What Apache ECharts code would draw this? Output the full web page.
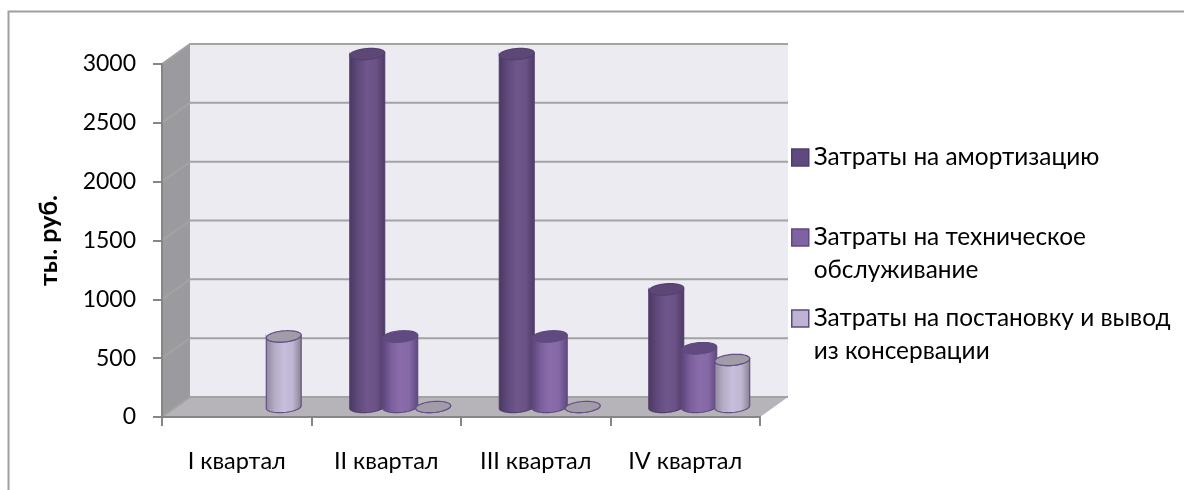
<!DOCTYPE html>
<html>
<head>
<meta charset="utf-8">
<script src="https://cdn.jsdelivr.net/npm/echarts@6/dist/echarts.min.js"></script>
<style>
  html, body { margin: 0; padding: 0; background: #fff; }
  #main { width: 1184px; height: 490px; }
</style>
</head>
<body>
<div id="main"></div>
<script>
var categories = ['I квартал', 'II квартал', 'III квартал', 'IV квартал'];
var yTicks = [0, 500, 1000, 1500, 2000, 2500, 3000];
var amortName = 'Затраты на амортизацию';
var serviceName = 'Затраты на техническое обслуживание';
var preserveName = 'Затраты на постановку и вывод из консервации';
var amortValues = [null, 3000, 3000, 1000];
var serviceValues = [null, 600, 600, 500];
var preserveValues = [600, 0, 0, 400];

var FONT = 'Lato';
var DX = 28, DY = 20;           // depth of the fake 3d box
var RX = 17.5, RY = 5.5;        // cylinder ellipse
var TILT = -5 * Math.PI / 180;

var chart = echarts.init(document.getElementById('main'));

function ellipsePoint(cx, cy, a) {
  var ex = RX * Math.cos(a), ey = RY * Math.sin(a);
  return [cx + ex * Math.cos(TILT) - ey * Math.sin(TILT), cy + ex * Math.sin(TILT) + ey * Math.cos(TILT)];
}

function ellipsePoints(cx, cy) {
  var pts = [];
  for (var i = 0; i < 48; i++) pts.push(ellipsePoint(cx, cy, i / 48 * Math.PI * 2));
  return pts;
}

function hGrad(stops) {
  return {
    type: 'linear', x: 0, y: 0, x2: 1, y2: 0,
    colorStops: stops.map(function (c, i) { return { offset: i / (stops.length - 1), color: c }; })
  };
}

function cylinderSeries(name, values, shift, look) {
  return {
    type: 'custom',
    name: name,
    z: 4,
    itemStyle: { color: look.icon },
    data: values.map(function (v, i) { return [i, v]; }),
    renderItem: function (params, api) {
      var v = api.value(1);
      if (isNaN(v)) return null;
      var top = api.coord([api.value(0), v]);
      var base = api.coord([api.value(0), 0]);
      var cx = top[0] + DX / 2 + shift;
      var yb = base[1] - DY / 2, yt = top[1] - DY / 2;
      var side = [];
      for (var i = 0; i <= 24; i++) side.push(ellipsePoint(cx, yb, Math.PI - i / 24 * Math.PI));
      for (i = 0; i <= 24; i++) side.push(ellipsePoint(cx, yt, i / 24 * Math.PI));
      return {
        type: 'group',
        children: [
          {
            type: 'polygon',
            shape: { points: side },
            style: { fill: hGrad(look.side), stroke: look.border, lineWidth: 1.2 }
          },
          {
            type: 'polygon',
            shape: { points: ellipsePoints(cx, yt) },
            style: { fill: look.top, stroke: look.border, lineWidth: 1.2 }
          }
        ]
      };
    }
  };
}

// walls and floor of the box
var wallSeries = {
  type: 'custom',
  silent: true,
  z: 1,
  data: [[0, 0]],
  renderItem: function (params, api) {
    var c = params.coordSys;
    var l = c.x, r = c.x + c.width, t = c.y, b = c.y + c.height;
    return {
      type: 'group',
      children: [
        { type: 'polygon', shape: { points: [[l + DX, t - DY], [r + DX, t - DY], [r + DX, b - DY], [l + DX, b - DY]] }, style: { fill: '#ecebf1' } },
        { type: 'polygon', shape: { points: [[l, t], [l + DX, t - DY], [l + DX, b - DY], [l, b]] }, style: { fill: '#9b9a9e' } },
        { type: 'polygon', shape: { points: [[l, b], [l + DX, b - DY], [r + DX, b - DY], [r, b]] }, style: { fill: '#b6b4b9' } }
      ]
    };
  }
};

// grid lines run along the side wall, then along the back wall
var gridSeries = {
  type: 'custom',
  silent: true,
  z: 2,
  data: yTicks.map(function (t) { return [0, t]; }),
  renderItem: function (params, api) {
    var c = params.coordSys;
    var y = api.coord([0, api.value(1)])[1];
    return {
      type: 'polyline',
      shape: { points: [[c.x, y], [c.x + DX, y - DY], [c.x + c.width + DX, y - DY]] },
      style: { fill: 'none', stroke: '#a3a3a3', lineWidth: 2 }
    };
  }
};

function legendFor(name, top, text, color, border) {
  return {
    left: 791,
    top: top,
    padding: 0,
    orient: 'vertical',
    selectedMode: false,
    icon: 'rect',
    itemWidth: 17,
    itemHeight: 17,
    itemGap: 0,
    formatter: function () { return text; },
    textStyle: { fontFamily: FONT, fontSize: 24.4, lineHeight: 33, color: '#000' },
    data: [{ name: name, itemStyle: { color: color, borderColor: border, borderWidth: 1.5 } }]
  };
}

var option = {
  animation: false,
  backgroundColor: '#fff',
  grid: { left: 162, top: 64, width: 598, height: 353 },
  xAxis: {
    type: 'category',
    data: categories,
    z: 6,
    axisLine: { lineStyle: { color: '#868686', width: 2 } },
    axisTick: { show: true, length: 9, interval: 0, lineStyle: { color: '#868686', width: 2 } },
    axisLabel: { margin: 32, interval: 0, color: '#000', fontFamily: FONT, fontSize: 23.5 }
  },
  yAxis: {
    type: 'value',
    min: 0,
    max: 3000,
    interval: 500,
    z: 6,
    name: 'ты. руб.',
    nameLocation: 'middle',
    nameGap: 101,
    nameRotate: 90,
    nameTextStyle: { fontFamily: FONT, fontSize: 25, fontWeight: 'bold', color: '#000' },
    axisLine: { show: true, lineStyle: { color: '#868686', width: 2 } },
    axisTick: { show: true, length: 9, lineStyle: { color: '#868686', width: 2 } },
    axisLabel: {
      margin: 26, color: '#000', fontFamily: FONT, fontSize: 23,
      formatter: function (v) { return String(v); }
    },
    splitLine: { show: false }
  },
  legend: [
    legendFor(amortName, 141, 'Затраты на амортизацию', '#5f4a80', '#503c6c'),
    legendFor(serviceName, 188, '\nЗатраты на техническое\nобслуживание', '#7f62a3', '#5f4a80'),
    legendFor(preserveName, 269, '\nЗатраты на постановку и вывод\nиз консервации', '#bdb3d2', '#5f4a80')
  ],
  graphic: [
    { type: 'polyline', silent: true, shape: { points: [[8.5, 490], [8.5, 11.5], [1184, 11.5]] }, style: { fill: 'none', stroke: '#a0a0a0', lineWidth: 2 } }
  ],
  series: [
    wallSeries,
    gridSeries,
    cylinderSeries(amortName, amortValues, -33, {
      icon: '#5f4a80', top: '#5d4777', border: '#53406e',
      side: ['#4b3760', '#5f4a7c', '#6f568c', '#6a5286', '#4d3964']
    }),
    cylinderSeries(serviceName, serviceValues, 0, {
      icon: '#7f62a3', top: '#604a80', border: '#5f4a80',
      side: ['#5a4377', '#7a5f9c', '#8b6cab', '#8568a6', '#5e4780']
    }),
    cylinderSeries(preserveName, preserveValues, 33, {
      icon: '#bdb3d2', top: '#a29ca9', border: '#654f88',
      side: ['#8f8799', '#b5acc6', '#c6bedb', '#bfb6d2', '#85808f']
    })
  ]
};

chart.setOption(option);
</script>
</body>
</html>
